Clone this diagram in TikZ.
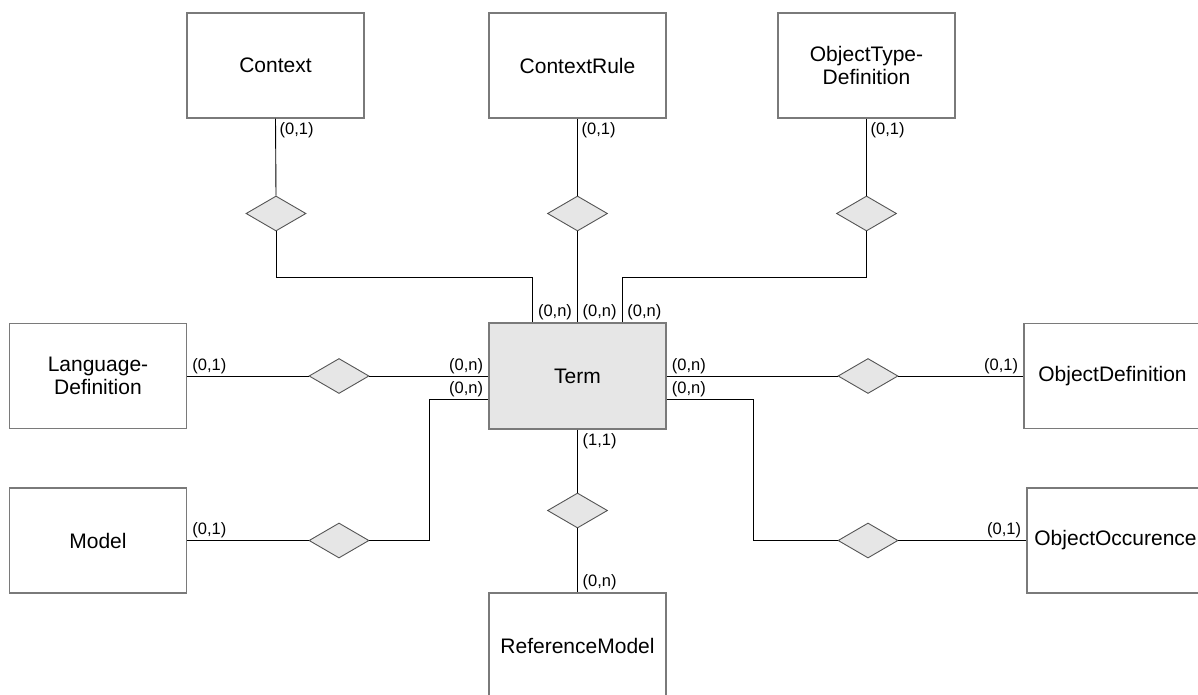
\documentclass[tikz,border=0pt]{standalone}
\usepackage{fontspec}
\setmainfont{Liberation Sans}
\usetikzlibrary{shapes.geometric,calc}
\definecolor{boxgray}{HTML}{7A7A7A}
\definecolor{diagray}{HTML}{555555}
\definecolor{fillgray}{HTML}{E6E6E6}
\begin{document}
\begin{tikzpicture}[x=1pt,y=-1pt,
  entity/.style={draw=boxgray,line width=1.3pt,fill=white,minimum width=177pt,minimum height=105pt,inner sep=0pt,align=center,font=\fontsize{21}{23.5}\selectfont},
  rel/.style={diamond,draw=diagray,fill=fillgray,line width=0.9pt,minimum width=60pt,minimum height=35pt,inner sep=0pt},
  card/.style={font=\fontsize{16.5}{18}\selectfont,inner sep=0pt},
  conn/.style={draw=black,line width=0.9pt}]
\useasboundingbox (0,0) rectangle (1198,695);
% entities
\node[entity] (ctx) at (275.5,65.5) {Context};
\node[entity] (ctxr) at (577.5,65.5) {ContextRule};
\node[entity] (otd) at (866.5,65.5) {ObjectType-\\Definition};
\node[entity] (ld) at (98,376) {Language-\\Definition};
\node[entity,fill=fillgray,minimum height=106pt] (term) at (577.5,376) {Term};
\node[entity] (od) at (1112.5,376) {ObjectDefinition};
\node[entity] (mod) at (98,540.5) {Model};
\node[entity] (oo) at (1115.5,540.5) {ObjectOccurence};
\node[entity] (rm) at (577.5,645.5) {ReferenceModel};
% relationships
\node[rel] (r1) at (276,213.5) {};
\node[rel] (r2) at (577.5,213.5) {};
\node[rel] (r3) at (866.5,213.5) {};
\node[rel] (r4) at (339,376) {};
\node[rel] (r5) at (339,540.5) {};
\node[rel] (r6) at (868,376) {};
\node[rel] (r7) at (868,540.5) {};
\node[rel] (r8) at (577.5,510.5) {};
% attachment points on Term
\coordinate (tA) at ($(term.north west)+(44.5,0)$);
\coordinate (tC) at ($(term.north east)+(-44.5,0)$);
\coordinate (tL) at ($(term.west)+(0,23)$);
\coordinate (tR) at ($(term.east)+(0,23)$);
% connectors
\draw[conn] (ctx.south) -- (r1.north);
\draw[conn] (r1.south) -- ++(0,46) -| (tA);
\draw[conn] (ctxr.south) -- (r2.north);
\draw[conn] (r2.south) -- (term.north);
\draw[conn] (otd.south) -- (r3.north);
\draw[conn] (r3.south) -- ++(0,46) -| (tC);
\draw[conn] (ld.east) -- (r4.west);
\draw[conn] (r4.east) -- (term.west);
\draw[conn] (mod.east) -- (r5.west);
\draw[conn] (r5.east) -- ++(60,0) |- (tL);
\draw[conn] (term.east) -- (r6.west);
\draw[conn] (r6.east) -- (od.west);
\draw[conn] (tR) -- ++(87,0) |- (r7.west);
\draw[conn] (r7.east) -- (oo.west);
\draw[conn] (term.south) -- (r8.north);
\draw[conn] (r8.south) -- (rm.north);
% cardinalities
\node[card,anchor=north west] at ($(ctx.south)+(4,4)$) {(0,1)};
\node[card,anchor=north west] at ($(ctxr.south)+(4,4)$) {(0,1)};
\node[card,anchor=north west] at ($(otd.south)+(4,4)$) {(0,1)};
\node[card,anchor=south west] at ($(tA)+(5,-2)$) {(0,n)};
\node[card,anchor=south west] at ($(term.north)+(5,-2)$) {(0,n)};
\node[card,anchor=south west] at ($(tC)+(5,-2)$) {(0,n)};
\node[card,anchor=south west] at ($(ld.east)+(5,-2)$) {(0,1)};
\node[card,anchor=south east] at ($(term.west)+(-5,-2)$) {(0,n)};
\node[card,anchor=south east] at ($(tL)+(-5,-2)$) {(0,n)};
\node[card,anchor=south west] at ($(mod.east)+(5,-2)$) {(0,1)};
\node[card,anchor=south west] at ($(term.east)+(5,-2)$) {(0,n)};
\node[card,anchor=south west] at ($(tR)+(5,-2)$) {(0,n)};
\node[card,anchor=south east] at ($(od.west)+(-5,-2)$) {(0,1)};
\node[card,anchor=south east] at ($(oo.west)+(-5,-2)$) {(0,1)};
\node[card,anchor=north west] at ($(term.south)+(5,4)$) {(1,1)};
\node[card,anchor=south west] at ($(rm.north)+(5,-2)$) {(0,n)};
\end{tikzpicture}
\end{document}
